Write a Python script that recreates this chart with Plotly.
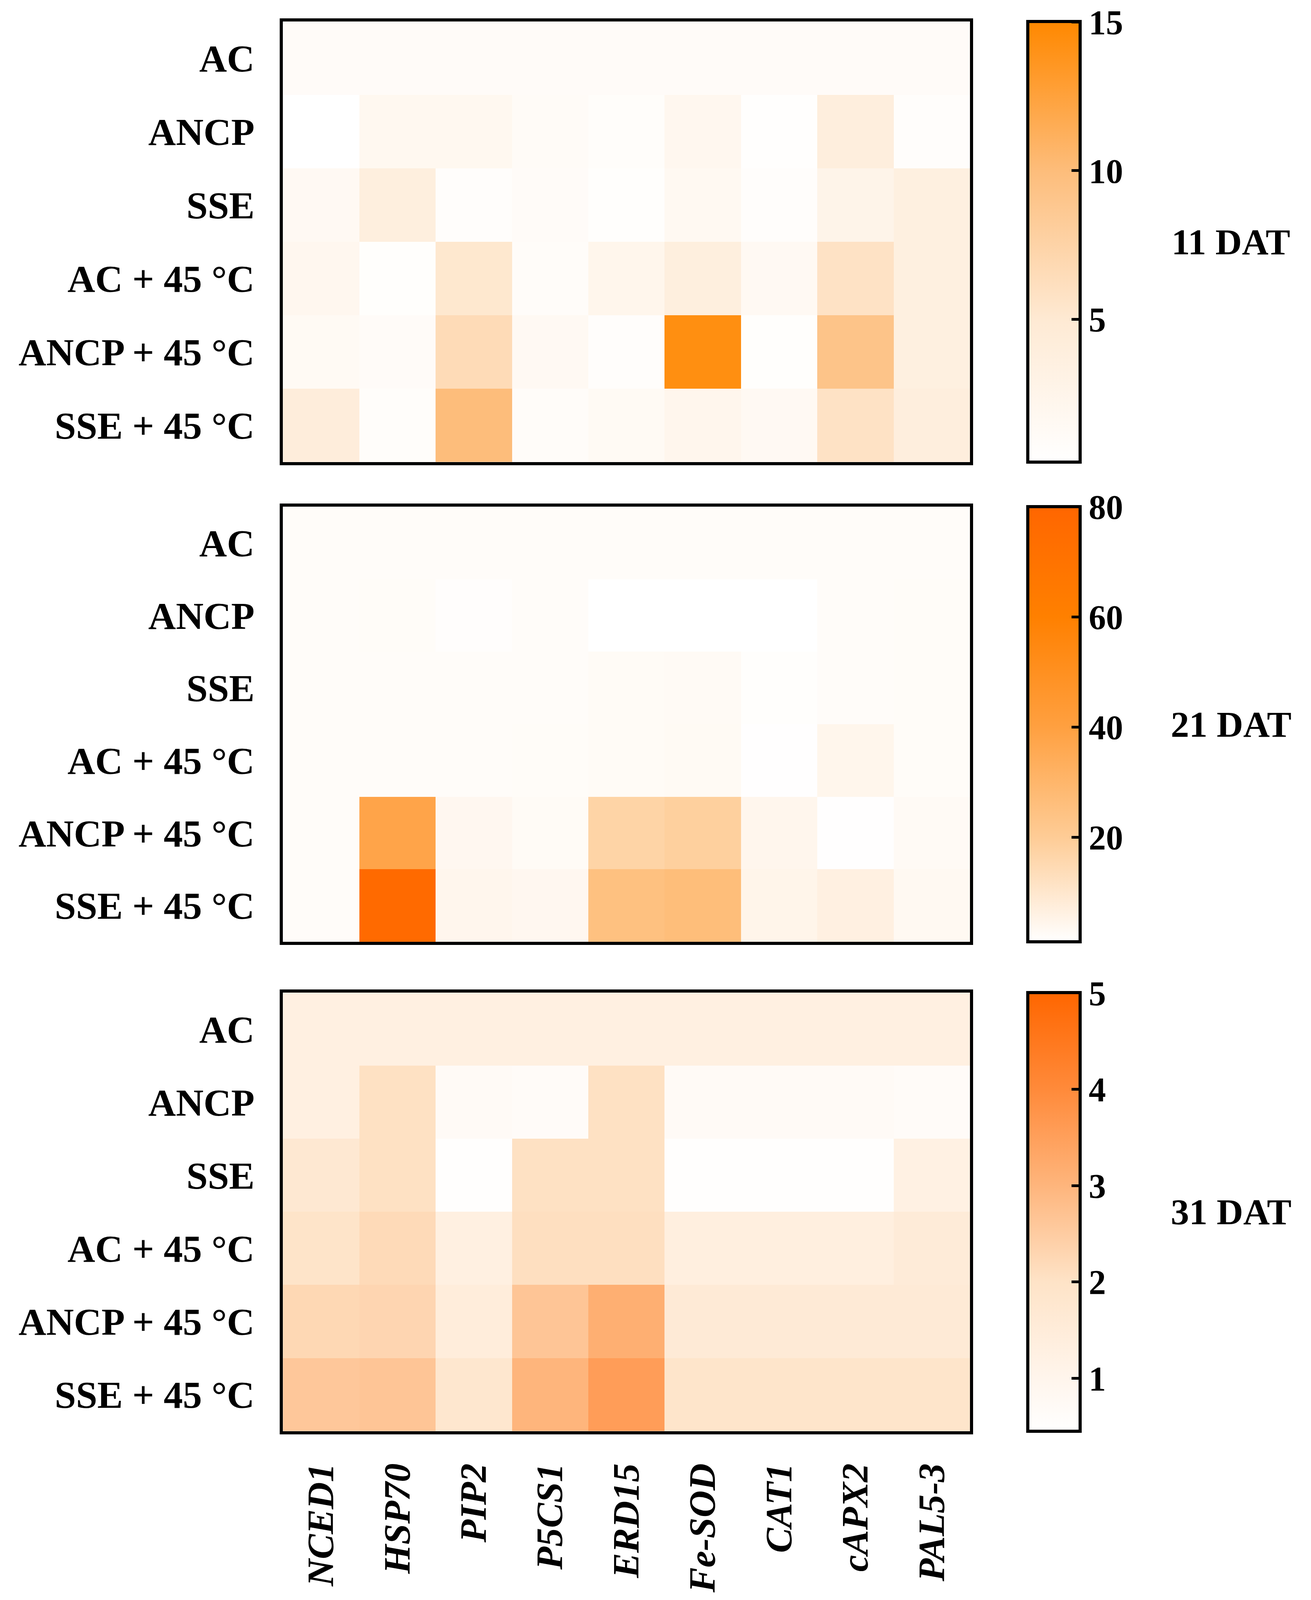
import plotly.graph_objects as go

# genes (columns) and treatments (rows)
genes = ['NCED1', 'HSP70', 'PIP2', 'P5CS1', 'ERD15', 'Fe-SOD', 'CAT1', 'cAPX2', 'PAL5-3']
treatments = ['AC', 'ANCP', 'SSE', 'AC + 45 °C', 'ANCP + 45 °C', 'SSE + 45 °C']

# relative expression, 11 DAT
dat11 = [
    [1.0, 1.0, 1.0, 1.0, 1.0, 1.0, 1.0, 1.0, 1.0],
    [0.2, 1.8, 1.8, 1.1, 0.7, 2.0, 0.4, 4.0, 0.6],
    [1.5, 3.8, 0.6, 1.0, 0.5, 1.6, 0.6, 2.6, 3.6],
    [2.0, 0.5, 5.2, 0.9, 2.3, 3.8, 1.5, 5.8, 3.6],
    [1.4, 1.0, 6.6, 1.5, 0.6, 14.3, 0.5, 9.2, 3.6],
    [4.2, 0.7, 10.0, 0.9, 1.4, 2.2, 1.5, 5.8, 4.0],
]

# relative expression, 21 DAT
dat21 = [
    [2.0, 2.0, 2.0, 2.0, 2.0, 2.0, 2.0, 2.0, 2.0],
    [2.0, 2.3, 1.6, 2.0, 0.8, 0.8, 0.8, 2.0, 2.2],
    [2.0, 2.1, 2.0, 2.0, 2.6, 2.8, 1.5, 2.0, 2.2],
    [2.0, 2.1, 2.1, 2.3, 2.6, 3.0, 1.2, 4.5, 2.3],
    [2.0, 38.0, 3.8, 2.6, 17.0, 18.5, 4.3, 1.2, 2.8],
    [2.1, 77.0, 4.3, 3.8, 25.0, 26.5, 4.8, 6.5, 3.4],
]

# relative expression, 31 DAT
dat31 = [
    [1.3, 1.3, 1.3, 1.3, 1.3, 1.3, 1.3, 1.3, 1.3],
    [1.3, 2.05, 0.7, 0.65, 2.05, 0.7, 0.7, 0.7, 0.65],
    [1.7, 2.05, 0.5, 2.05, 2.05, 0.5, 0.5, 0.5, 1.25],
    [1.95, 2.2, 1.3, 2.1, 2.1, 1.35, 1.35, 1.35, 1.55],
    [2.25, 2.3, 1.45, 2.65, 3.15, 1.6, 1.6, 1.6, 1.6],
    [2.6, 2.65, 1.8, 3.0, 3.55, 1.9, 1.9, 1.9, 1.9],
]

panels = [
    dict(z=dat11, title='11 DAT', zmin=0.2, zmax=15.02, ticks=[5, 10, 15],
         scale=[[0, '#FFFFFF'], [0.32, '#FEEAD4'], [0.66, '#FDBD7B'],
                [0.88, '#FF9A2A'], [1, '#FF8800']],
         dom=[0.7111, 0.9885]),
    dict(z=dat21, title='21 DAT', zmin=1, zmax=80.05, ticks=[20, 40, 60, 80],
         scale=[[0, '#FFFFFF'], [0.24, '#FECC96'], [0.494, '#FFA040'],
                [0.747, '#FF8000'], [1, '#FF6600']],
         dom=[0.4090, 0.6830]),
    dict(z=dat31, title='31 DAT', zmin=0.45, zmax=5.005, ticks=[1, 2, 3, 4, 5],
         scale=[[0, '#FFFFFF'], [0.121, '#FFF5EC'], [0.341, '#FEE3C7'],
                [0.56, '#FEB57C'], [0.78, '#FF8A3A'], [1, '#FF6600']],
         dom=[0.1009, 0.3771]),
]

font_name = 'Liberation Serif'
fig = go.Figure()
layout = {}

for i, p in enumerate(panels):
    n = '' if i == 0 else str(i + 1)
    d0, d1 = p['dom']
    fig.add_trace(go.Heatmap(
        z=p['z'], x=genes, y=treatments,
        xaxis='x' + n, yaxis='y' + n,
        colorscale=p['scale'], zmin=p['zmin'], zmax=p['zmax'],
        colorbar=dict(
            x=0.7816, xanchor='left', y=(d0 + d1) / 2, yanchor='middle',
            len=d1 - d0, lenmode='fraction', thickness=134,
            outlinewidth=8, outlinecolor='black', xpad=0, ypad=0,
            tickvals=p['ticks'], ticktext=[str(t) for t in p['ticks']],
            ticks='inside', ticklen=26, tickwidth=7, tickcolor='black',
            tickfont=dict(family=font_name, size=88, color='black', weight='bold'),
        ),
    ))
    layout['xaxis' + n] = dict(
        domain=[0.2134, 0.7375], anchor='y' + n,
        showline=True, mirror=True, linewidth=8, linecolor='black',
        ticks='', showgrid=False, showticklabels=(i == 2),
        tickangle=-90, ticklabelstandoff=36,
        tickfont=dict(family=font_name, size=96, color='black',
                      weight='bold', style='italic'),
    )
    layout['yaxis' + n] = dict(
        domain=[d0, d1], anchor='x' + n, autorange='reversed',
        showline=True, mirror=True, linewidth=8, linecolor='black',
        ticks='', showgrid=False, ticklabelstandoff=45,
        tickfont=dict(family=font_name, size=98, color='black', weight='bold'),
    )
    fig.add_annotation(
        text='<b>' + p['title'] + '</b>', xref='paper', yref='paper',
        x=0.9366, y=(d0 + d1) / 2, xanchor='center', yanchor='middle',
        showarrow=False,
        font=dict(family=font_name, size=94, color='black'),
    )

fig.update_layout(
    **layout,
    width=3356, height=4070, autosize=False,
    margin=dict(l=0, r=0, t=0, b=0),
    paper_bgcolor='white', plot_bgcolor='white',
)

fig.write_html('out.html')
